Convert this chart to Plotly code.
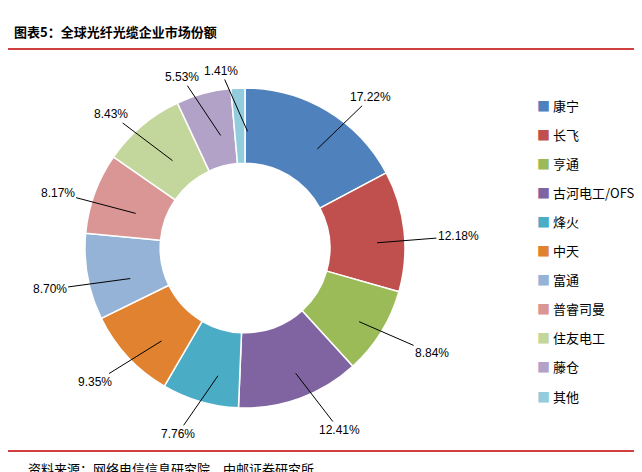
import numpy as np
import plotly.graph_objects as go

labels = ['康宁', '长飞', '亨通', '古河电工/OFS', '烽火', '中天', '富通', '普睿司曼', '住友电工', '藤仓', '其他']
values = [17.22, 12.18, 8.84, 12.41, 7.76, 9.35, 8.70, 8.17, 8.43, 5.53, 1.41]
colors = ['#4F81BD', '#C0504D', '#9BBB59', '#8064A2', '#4BACC6', '#E0822F',
          '#95B3D7', '#D99694', '#C3D69B', '#B3A2C7', '#93CDDD']

W, H = 642, 472
cx, cy, R = 245, 248, 160
FONT = 'Noto Sans CJK SC'

# domain nudged so the drawn pie lands on the reference centre
dx, dy = -8, -8
fig = go.Figure(go.Pie(
    labels=labels, values=values, hole=0.53, sort=False, direction='clockwise',
    rotation=0, marker=dict(colors=colors, line=dict(color='white', width=1.5)),
    textinfo='none', hoverinfo='label+percent', showlegend=False,
    domain=dict(x=[(cx + dx - R) / W, (cx + dx + R) / W],
                y=[(H - cy - dy - R) / H, (H - cy - dy + R) / H]),
))

ann = []
cum = 0
for v in values:
    th = 2 * np.pi * (cum + v / 2) / 100
    cum += v
    s, c = np.sin(th), np.cos(th)
    hx, hy = cx + 0.78 * R * s, cy - 0.78 * R * c
    tx, ty = cx + 1.14 * R * s + 24 * np.sign(s), cy - 1.12 * R * c - 6 * c
    ann.append(dict(x=hx / W, y=1 - hy / H, xref='paper', yref='paper',
                    ax=tx - hx, ay=ty - hy, axref='pixel', ayref='pixel',
                    text='%.2f%%' % v, showarrow=True, arrowhead=0, arrowwidth=1,
                    arrowcolor='black', standoff=0, startstandoff=0,
                    font=dict(size=12, color='black', family='Arial')))

for i, (lab, col) in enumerate(zip(labels, colors)):
    yy = 97 + i * 29.1
    ann.append(dict(x=527 / W, y=1 - yy / H, xref='paper', yref='paper', showarrow=False,
                    xanchor='left', yanchor='middle',
                    text='<span style="color:%s">■</span> %s' % (col, lab),
                    font=dict(size=13, color='black', family=FONT)))

shapes = [
    dict(type='line', xref='paper', yref='paper', x0=0, x1=1,
         y0=1 - 41 / H, y1=1 - 41 / H, line=dict(color='#C00000', width=1.5)),
    dict(type='line', xref='paper', yref='paper', x0=0, x1=1,
         y0=1 - 443 / H, y1=1 - 443 / H, line=dict(color='#C00000', width=1.5)),
]
ann.append(dict(x=4 / W, y=1 - 24 / H, xref='paper', yref='paper', showarrow=False, xanchor='left',
                yanchor='middle', text='<b>图表5：全球光纤光缆企业市场份额</b>',
                font=dict(size=13, color='black', family=FONT)))
ann.append(dict(x=18 / W, y=1 - 460 / H, xref='paper', yref='paper', showarrow=False, xanchor='left',
                yanchor='middle', text='资料来源：网络电信信息研究院，中邮证券研究所',
                font=dict(size=13, color='black', family=FONT)))

fig.update_layout(width=W, height=H, margin=dict(l=0, r=0, t=0, b=0),
                  paper_bgcolor='white', plot_bgcolor='white',
                  annotations=ann, shapes=shapes)
fig.write_html('out.html')
